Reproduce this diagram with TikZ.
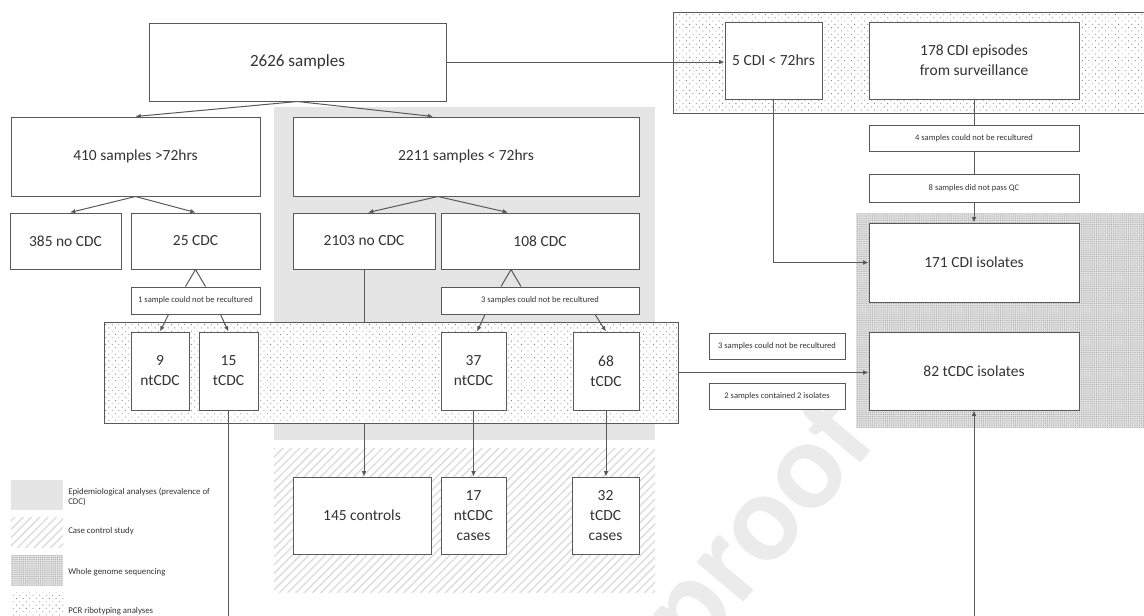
\documentclass[tikz,border=0pt]{standalone}
\usepackage{fontspec}
\setmainfont{Carlito}
\usetikzlibrary{arrows.meta, positioning, patterns.meta, calc}

\newcommand{\px}{0.75pt}

\begin{document}
\begin{tikzpicture}[
  x=\px, y=-\px,
  sz/.style 2 args={minimum width=#1*\px, minimum height=#2*\px},
  box/.style={draw=black!65, fill=white, line width=0.75pt, align=center, inner sep=0pt, text=black!80, font=\fontsize{11.6}{15}\selectfont},
  note/.style={box, font=\fontsize{6.4}{7.5}\selectfont},
  link/.style={draw=black!65, line width=0.75pt},
  arrow/.style={link, -{Latex[length=4pt, width=3.5pt]}},
  epi/.style={fill=black!10},
  ccs/.style={pattern={Lines[angle=45, distance=4.4pt, line width=1pt]}, pattern color=black!14},
  wgs/.style={preaction={fill=black!11}, pattern={Dots[distance=1.6pt, radius=0.5pt]}, pattern color=black!32},
  pcr/.style={preaction={fill=white}, pattern={Dots[angle=45, distance=3.5pt, radius=0.45pt]}, pattern color=black!50},
  legend/.style={anchor=west, align=left, inner sep=0pt, text=black!80, font=\fontsize{6.6}{8}\selectfont}
]
\useasboundingbox (0,0) rectangle (1144,615);

% watermark
\node[rotate=50, text=black!8, font=\fontsize{95}{95}\selectfont\bfseries] (mark) at (762,528) {proof};

% study regions
\fill[epi] (274,107) rectangle (655,440);
\path[ccs] (274,448) rectangle (655,592);
\path[wgs] (856,213) rectangle (1150,428);
\node[draw=black!65, line width=0.75pt, pcr, inner sep=0pt, sz={574}{101}] (pcrbox) at (391,372.5) {};
\node[draw=black!65, line width=0.75pt, pcr, inner sep=0pt, sz={477}{101}] (cdibox) at (911.5,62.5) {};

% left tree
\node[box, sz={297}{78}, font=\fontsize{12.8}{15}\selectfont] (all) at (297.5,62) {2626 samples};
\node[box, sz={249}{79}] (late) at (135.5,156.5) {410 samples >72hrs};
\node[box, sz={346}{79}] (early) at (466,156.5) {2211 samples < 72hrs};
\node[box, sz={111}{56}] (lateneg) at (65.5,241) {385 no CDC};
\node[box, sz={129}{56}] (latepos) at (195.5,241) {25 CDC};
\node[box, sz={142}{56}] (earlyneg) at (364,241) {2103 no CDC};
\node[box, sz={198}{56}] (earlypos) at (540,241) {108 CDC};
\node[note, sz={129}{27}] (lateloss) at (195.5,300.5) {1 sample could not be recultured};
\node[note, sz={198}{27}] (earlyloss) at (540,300.5) {3 samples could not be recultured};
\node[box, sz={58}{78}] (latent) at (160,371) {9\\ntCDC};
\node[box, sz={59}{78}] (latet) at (228.5,371) {15\\tCDC};
\node[box, sz={65}{78}] (earlynt) at (473.5,371) {37\\ntCDC};
\node[box, sz={66}{78}] (earlyt) at (606,371) {68\\tCDC};
\node[box, sz={138}{77}] (controls) at (362,515.5) {145 controls};
\node[box, sz={65}{77}] (ntcases) at (473.5,515.5) {17\\ntCDC\\cases};
\node[box, sz={67}{77}] (tcases) at (605.5,515.5) {32\\tCDC\\cases};

% right column
\node[box, sz={97}{77}] (cdishort) at (773.5,60.5) {5 CDI < 72hrs};
\node[box, sz={210}{77}] (cdisurv) at (974,60.5) {178 CDI episodes\\from surveillance};
\node[note, sz={210}{26}] (survloss) at (974,138) {4 samples could not be recultured};
\node[note, sz={210}{28}] (survqc) at (974,188) {8 samples did not pass QC};
\node[box, sz={210}{79}] (cdiiso) at (974,262.5) {171 CDI isolates};
\node[box, sz={210}{78}] (tcdciso) at (974,371) {82 tCDC isolates};
\node[note, sz={136}{26}] (isoloss) at (777,346) {3 samples could not be recultured};
\node[note, sz={136}{26}] (isodouble) at (777,396) {2 samples contained 2 isolates};

\coordinate (lateexit) at (228.5,630);
\coordinate (survexit) at (974,630);

% connectors
\draw[arrow] (all.south) -- (late.north);
\draw[arrow] (all.south) -- ([xshift=-33*\px]early.north);
\draw[arrow] (all.east) -- (all.east -| cdishort.west);
\draw[arrow] (late.south) -- ([xshift=4.5*\px]lateneg.north);
\draw[arrow] (late.south) -- (latepos.north);
\draw[arrow] ([xshift=-28*\px]early.south) -- ([xshift=4*\px]earlyneg.north);
\draw[arrow] ([xshift=-28*\px]early.south) -- ([xshift=-32*\px]earlypos.north);
\draw[link] (latepos.south) -- ([xshift=-10*\px]lateloss.north);
\draw[link] (latepos.south) -- ([xshift=10*\px]lateloss.north);
\draw[link] ([xshift=-29*\px]earlypos.south) -- ([xshift=-39*\px]earlyloss.north);
\draw[link] ([xshift=-29*\px]earlypos.south) -- ([xshift=-19*\px]earlyloss.north);
\draw[arrow] ([xshift=-27*\px]lateloss.south) -- (latent.north);
\draw[arrow] ([xshift=25*\px]lateloss.south) -- (latet.north);
\draw[arrow] ([xshift=-55*\px]earlyloss.south) -- ([xshift=3.5*\px]earlynt.north);
\draw[arrow] ([xshift=55*\px]earlyloss.south) -- (earlyt.north);
\draw[link] (earlyneg.south) -- (earlyneg.south |- pcrbox.north);
\draw[arrow] (earlyneg.south |- pcrbox.south) -- (earlyneg.south |- controls.north);
\draw[arrow] (earlynt.south) -- (ntcases.north);
\draw[arrow] (earlyt.south) -- (earlyt.south |- tcases.north);
\draw[link] (latet.south) -- (lateexit);
\draw[arrow] (cdishort.south) |- (cdiiso.west);
\draw[link] (cdisurv.south) -- (survloss.north);
\draw[link] (survloss.south) -- (survqc.north);
\draw[arrow] (survqc.south) -- (cdiiso.north);
\draw[arrow] (pcrbox.east) -- (pcrbox.east -| tcdciso.west);
\draw[arrow] (survexit) -- (tcdciso.south);

% legend
\fill[epi] (11,480) rectangle (63,510);
\path[ccs] (11,517) rectangle (63,547);
\path[wgs] (11,555) rectangle (63,586);
\path[pcr] (11,592) rectangle (63,622);
\node[legend] (epikey) at (68,497) {Epidemiological analyses (prevalence of\\CDC)};
\node[legend] (ccskey) at (68,531) {Case control study};
\node[legend] (wgskey) at (68,572) {Whole genome sequencing};
\node[legend] (pcrkey) at (68,611) {PCR ribotyping analyses};
\end{tikzpicture}
\end{document}
